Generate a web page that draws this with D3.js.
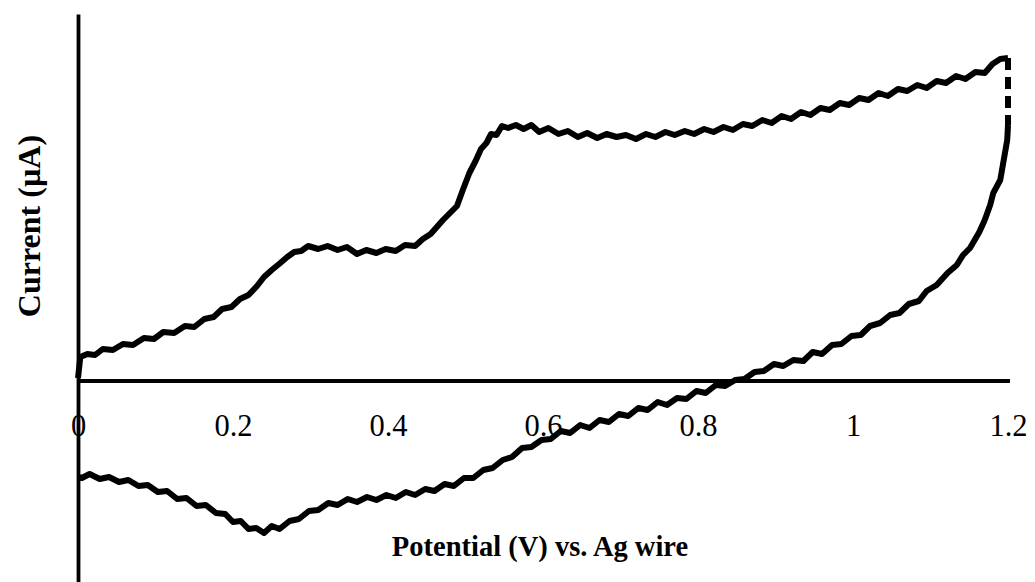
<!DOCTYPE html>
<html>
<head>
<meta charset="utf-8">
<script src="https://cdn.jsdelivr.net/npm/d3@7"></script>
<style>
  body { margin: 0; background: #fff; }
  svg { display: block; }
  .axis text { font-family: "Liberation Serif", "Times New Roman", serif; fill: #000; }
  .title { font-family: "Liberation Serif", "Times New Roman", serif; font-weight: bold; fill: #000; }
</style>
</head>
<body>
<svg id="cv" width="1035" height="582"></svg>
<script>
// potential (V) and current (arbitrary µA)
const fwdV = [0, 0.003, 0.012, 0.022, 0.032, 0.045, 0.058, 0.071, 0.085, 0.098, 0.11, 0.124, 0.138, 0.15, 0.163, 0.175, 0.186, 0.198, 0.209, 0.22,
  0.231, 0.24, 0.25, 0.261, 0.27, 0.279, 0.288, 0.297, 0.31, 0.322, 0.335, 0.347, 0.36, 0.372, 0.385, 0.397, 0.41, 0.422, 0.435, 0.445,
  0.455, 0.463, 0.471, 0.48, 0.489, 0.497, 0.505, 0.513, 0.52, 0.527, 0.533, 0.54, 0.547, 0.555, 0.565, 0.575, 0.585, 0.595, 0.607, 0.62,
  0.632, 0.645, 0.657, 0.67, 0.682, 0.695, 0.707, 0.72, 0.733, 0.745, 0.758, 0.77, 0.783, 0.795, 0.808, 0.82, 0.833, 0.845, 0.858, 0.87,
  0.883, 0.895, 0.908, 0.92, 0.933, 0.945, 0.958, 0.97, 0.983, 0.995, 1.008, 1.02, 1.033, 1.045, 1.058, 1.07, 1.083, 1.095, 1.108, 1.12,
  1.133, 1.145, 1.158, 1.17, 1.18, 1.19, 1.2];
const fwdI = [0.15, 1.2, 1.35, 1.3, 1.6, 1.55, 1.85, 1.8, 2.15, 2.1, 2.45, 2.4, 2.75, 2.7, 3.1, 3.2, 3.6, 3.7, 4.1, 4.3,
  4.75, 5.2, 5.55, 5.9, 6.2, 6.45, 6.5, 6.75, 6.6, 6.75, 6.55, 6.7, 6.35, 6.55, 6.4, 6.6, 6.5, 6.8, 6.75, 7.1,
  7.35, 7.7, 8.05, 8.4, 8.75, 9.6, 10.4, 11.0, 11.6, 11.9, 12.35, 12.3, 12.75, 12.65, 12.8, 12.6, 12.8, 12.45, 12.65, 12.35,
  12.5, 12.2, 12.4, 12.15, 12.35, 12.2, 12.3, 12.1, 12.35, 12.2, 12.45, 12.3, 12.5, 12.35, 12.6, 12.45, 12.7, 12.55, 12.85, 12.75,
  13.05, 12.9, 13.25, 13.1, 13.45, 13.3, 13.65, 13.55, 13.9, 13.8, 14.15, 14.05, 14.4, 14.25, 14.6, 14.5, 14.8, 14.65, 15.0, 14.9,
  15.25, 15.1, 15.45, 15.4, 15.85, 16.1, 16.15];

const revV = [1.2, 1.199, 1.19, 1.181, 1.177, 1.17, 1.163, 1.151, 1.142, 1.134, 1.122, 1.108, 1.095, 1.085, 1.072, 1.06, 1.048, 1.035, 1.022, 1.01,
  0.998, 0.985, 0.973, 0.96, 0.948, 0.936, 0.923, 0.91, 0.898, 0.885, 0.873, 0.86, 0.848, 0.835, 0.823, 0.81, 0.798, 0.785, 0.773, 0.76,
  0.748, 0.735, 0.723, 0.71, 0.698, 0.685, 0.673, 0.66, 0.648, 0.635, 0.623, 0.61, 0.598, 0.585, 0.573, 0.56, 0.548, 0.535, 0.523, 0.51,
  0.498, 0.485, 0.473, 0.46, 0.448, 0.435, 0.423, 0.41, 0.398, 0.385, 0.373, 0.36, 0.348, 0.335, 0.323, 0.31, 0.298, 0.285, 0.273, 0.26,
  0.25, 0.24, 0.23, 0.22, 0.21, 0.2, 0.19, 0.178, 0.165, 0.153, 0.14, 0.128, 0.115, 0.103, 0.09, 0.078, 0.065, 0.053, 0.04, 0.028,
  0.015, 0.005, 0];
const revI = [12.8, 12.05, 10.05, 9.4, 8.8, 8.05, 7.45, 6.65, 6.3, 5.8, 5.4, 4.8, 4.5, 4.0, 3.85, 3.4, 3.3, 2.9, 2.75, 2.3,
  2.25, 1.85, 1.8, 1.35, 1.45, 1.0, 1.05, 0.75, 0.85, 0.5, 0.45, 0.1, 0.05, -0.25, -0.2, -0.6, -0.5, -0.9, -0.85, -1.2,
  -1.05, -1.45, -1.35, -1.75, -1.65, -2.05, -1.95, -2.35, -2.2, -2.6, -2.5, -2.9, -2.95, -3.3, -3.35, -3.8, -3.95, -4.35, -4.45, -4.85,
  -4.85, -5.25, -5.15, -5.5, -5.4, -5.7, -5.55, -5.85, -5.7, -5.95, -5.8, -6.05, -5.9, -6.2, -6.1, -6.45, -6.5, -6.9, -7.0, -7.4,
  -7.25, -7.6, -7.35, -7.4, -7.0, -7.05, -6.65, -6.6, -6.2, -6.25, -5.85, -5.9, -5.5, -5.55, -5.2, -5.25, -4.95, -5.05, -4.8, -4.9,
  -4.65, -4.85, -4.8];

const xTicks = [0, 0.2, 0.4, 0.6, 0.8, 1, 1.2];

const svg = d3.select('svg#cv');

const x = d3.scaleLinear().domain([0, 1.2]).range([78, 1008]),
  y = d3.scaleLinear().domain([-10.05, 18.35]).range([582, 14]);

const fwd = fwdV.map((v, i) => [v, fwdI[i]]),
  rev = revV.map((v, i) => [v, revI[i]]),
  gap = [fwd[fwd.length - 1], rev[0]];

const line = d3.line().x(d => x(d[0])).y(d => y(d[1]));

// x axis sits on zero current
const xAxis = svg.append('g')
  .attr('class', 'axis')
  .attr('transform', `translate(0,${y(0)})`)
  .call(d3.axisBottom(x).tickValues(xTicks).tickSize(0).tickPadding(33)
    .tickFormat(d => d3.format('~g')(d)));
xAxis.select('.domain').attr('stroke', '#000').attr('stroke-width', 3.8)
  .attr('d', `M${x(0)},0H${x(1.2) + 2}`);
xAxis.selectAll('text').style('font-size', '30.5px');

const yAxis = svg.append('g')
  .attr('class', 'axis')
  .attr('transform', `translate(${x(0)},0)`)
  .call(d3.axisLeft(y).tickValues([]).tickSize(0));
yAxis.select('.domain').attr('stroke', '#000').attr('stroke-width', 3.8);

[fwd, rev].forEach(pts => {
  svg.append('path')
    .datum(pts)
    .attr('d', line)
    .attr('fill', 'none')
    .attr('stroke', '#000')
    .attr('stroke-width', 6)
    .attr('stroke-linejoin', 'round');
});

svg.append('path')
  .datum(gap)
  .attr('d', line)
  .attr('fill', 'none')
  .attr('stroke', '#000')
  .attr('stroke-width', 6)
  .attr('stroke-dasharray', '12,7');

svg.append('text')
  .attr('class', 'title')
  .attr('x', 540)
  .attr('y', 556)
  .attr('text-anchor', 'middle')
  .style('font-size', '28.5px')
  .text('Potential (V) vs. Ag wire');

svg.append('text')
  .attr('class', 'title')
  .attr('transform', 'translate(40,226) rotate(-90)')
  .attr('text-anchor', 'middle')
  .style('font-size', '32px')
  .text('Current (µA)');
</script>
</body>
</html>
